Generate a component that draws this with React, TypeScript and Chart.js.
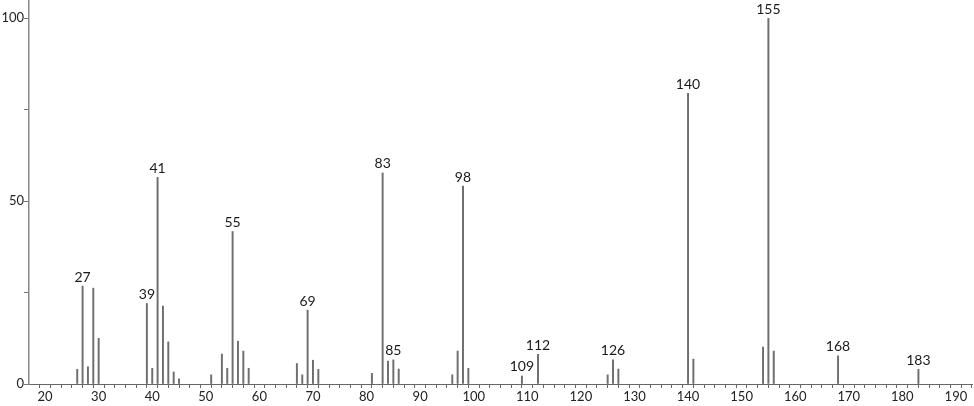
import React, { useEffect, useRef } from "react";
import { Chart, registerables } from "chart.js";

Chart.register(...registerables);

const mzValues = [26, 27, 28, 29, 30, 39, 40, 41, 42, 43, 44, 45, 51, 53, 54, 55, 56, 57, 58, 67, 68, 69, 70, 71, 81, 83, 84, 85, 86, 96, 97, 98, 99, 109, 112, 125, 126, 127, 140, 141, 154, 155, 156, 168, 183];
const intensities = [4.0, 26.8, 4.7, 26.2, 12.5, 22.0, 4.3, 56.5, 21.3, 11.5, 3.3, 1.4, 2.5, 8.2, 4.3, 41.7, 11.7, 9.0, 4.3, 5.6, 2.5, 20.2, 6.5, 4.0, 2.9, 57.7, 6.3, 6.6, 4.1, 2.5, 9.0, 54.1, 4.3, 2.2, 8.1, 2.5, 6.6, 4.1, 79.5, 6.8, 10.1, 100, 9.0, 7.7, 4.0];
const labeledPeaks = [27, 39, 41, 55, 69, 83, 85, 98, 109, 112, 126, 140, 155, 168, 183];
const xTickValues = Array.from({ length: 87 }, (_, i) => 20 + i * 2);
const xLabelTicks = [20, 30, 40, 50, 60, 70, 80, 90, 100, 110, 120, 130, 140, 150, 160, 170, 180, 190];
const yTickValues = [0, 25, 50, 75, 100];
const yLabelTicks = [0, 50, 100];

const FONT = "Lato, 'DejaVu Sans', sans-serif";

const peakLabelPlugin = {
  id: "peakLabels",
  afterDatasetsDraw(chart: any) {
    const ctx = chart.ctx;
    const meta = chart.getDatasetMeta(0);
    ctx.save();
    ctx.font = `14px ${FONT}`;
    ctx.fillStyle = "#1a1a1a";
    ctx.textAlign = "center";
    ctx.textBaseline = "bottom";
    mzValues.forEach((m, i) => {
      if (!labeledPeaks.includes(m)) return;
      const el = meta.data[i];
      ctx.fillText(String(m), el.x, el.y - 2);
    });
    ctx.restore();
  },
};

export default function App() {
  const ref = useRef<HTMLCanvasElement>(null);
  useEffect(() => {
    document.body.style.margin = "0";
    const chart = new Chart(ref.current!, {
      type: "bar",
      data: {
        datasets: [
          {
            data: mzValues.map((m, i) => ({ x: m, y: intensities[i] })),
            backgroundColor: "#6e6e6e",
            barThickness: 1.3,
          },
        ],
      },
      options: {
        animation: false,
        responsive: true,
        maintainAspectRatio: false,
        layout: { padding: { left: 0, right: 2, top: 0, bottom: 0 } },
        plugins: { legend: { display: false }, tooltip: { enabled: false } },
        scales: {
          x: {
            type: "linear",
            offset: false,
            min: 17,
            max: 193,
            afterBuildTicks: (s: any) => {
              s.ticks = xTickValues.map((v) => ({ value: v }));
            },
            afterFit: (s: any) => {
              s.height = 22;
              s.paddingLeft = 0;
              s.paddingRight = 0;
            },
            ticks: {
              autoSkip: false,
              maxRotation: 0,
              padding: 1,
              color: "#222",
              font: { family: FONT, size: 13 },
              callback: (v: any) => (xLabelTicks.includes(Number(v)) ? String(v) : ""),
            },
            grid: { drawOnChartArea: false, drawTicks: true, tickLength: 4, color: "#666" },
            border: { color: "#666", width: 1 },
          },
          y: {
            min: 0,
            max: 105,
            afterBuildTicks: (s: any) => {
              s.ticks = yTickValues.map((v) => ({ value: v }));
            },
            afterFit: (s: any) => {
              s.width = 29;
              s.paddingTop = 0;
              s.paddingBottom = 0;
            },
            ticks: {
              autoSkip: false,
              padding: 0,
              color: "#222",
              font: { family: FONT, size: 13 },
              callback: (v: any) => (yLabelTicks.includes(Number(v)) ? String(v) : ""),
            },
            grid: { drawOnChartArea: false, drawTicks: true, tickLength: 5, color: "#777" },
            border: { color: "#888", width: 1.5 },
          },
        },
      },
      plugins: [peakLabelPlugin],
    });
    return () => chart.destroy();
  }, []);
  return (
    <div style={{ position: "fixed", left: 0, top: 0, width: 974, height: 406 }}>
      <canvas ref={ref} />
    </div>
  );
}
